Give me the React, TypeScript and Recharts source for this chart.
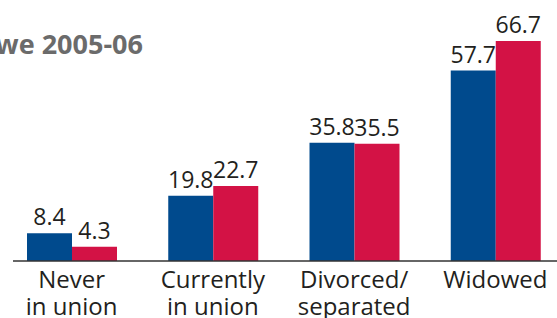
import React from 'react';
import { BarChart, Bar, XAxis, YAxis, LabelList } from 'recharts';

const categories = ['Never|in union', 'Currently|in union', 'Divorced/|separated', 'Widowed'];
const women = [8.4, 19.8, 35.8, 57.7];
const men = [4.3, 22.7, 35.5, 66.7];
const title = 'Zimbabwe 2005-06';

const data = categories.map((c, i) => ({ name: c, women: women[i], men: men[i] }));

const FONT = '"Open Sans", sans-serif';

const CategoryTick = ({ x, y, payload }: any) => {
  const lines = String(payload.value).split('|');
  return (
    <text x={x} y={y} textAnchor="middle" fill="#231f20" fontSize={24} fontFamily={FONT}>
      {lines.map((l, i) => (
        <tspan key={i} x={x} dy={i === 0 ? 27 : 26.5}>{l}</tspan>
      ))}
    </text>
  );
};

export default function App() {
  return (
    <div style={{ position: 'absolute', left: 0, top: 0, width: 557, height: 318, overflow: 'hidden', background: '#fff' }}>
      <BarChart
        width={566}
        height={318}
        data={data}
        margin={{ top: 30, right: 0, bottom: 0, left: 13 }}
        barGap={0}
        barSize={45}
      >
        <XAxis
          dataKey="name"
          interval={0}
          height={57}
          padding={{ left: -12, right: 0 }}
          axisLine={{ stroke: '#333', strokeWidth: 1.5 }}
          tickLine={false}
          tickSize={0}
          tickMargin={0}
          tick={<CategoryTick />}
        />
        <YAxis hide domain={[0, 70]} />
        <Bar dataKey="women" fill="#004a8d" isAnimationActive={false}>
          <LabelList dataKey="women" position="top" offset={8} fill="#231f20" fontSize={23} fontFamily={FONT} />
        </Bar>
        <Bar dataKey="men" fill="#d31245" isAnimationActive={false}>
          <LabelList dataKey="men" position="top" offset={8} fill="#231f20" fontSize={23} fontFamily={FONT} />
        </Bar>
        <text x={143} y={54} textAnchor="end" fill="#6b6b6b" fontSize={27} fontWeight="bold" fontFamily={FONT}>
          {title}
        </text>
      </BarChart>
    </div>
  );
}
